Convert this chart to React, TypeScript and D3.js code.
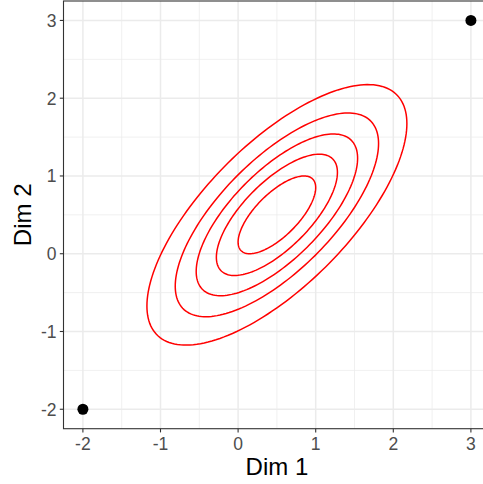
import React from "react";
import * as d3 from "d3";

const xTicks = [-2, -1, 0, 1, 2, 3];
const yTicks = [-2, -1, 0, 1, 2, 3];
const xMinor = [-1.5, -0.5, 0.5, 1.5, 2.5];
const yMinor = [-1.5, -0.5, 0.5, 1.5, 2.5];
const pointsX = [-2, 3];
const pointsY = [-2, 3];
const center = [0.5, 0.5];
const sds = [1, 1];
const rho = 0.7;
const contourRadii = [0.5, 0.78, 1.04, 1.31, 1.675];

const W = 483;
const H = 484;

export default function App() {
  const x = d3.scaleLinear().domain([-2.25, 3.25]).range([63.5, 490.3]);
  const y = d3.scaleLinear().domain([-2.25, 3.25]).range([428.7, 1.0]);
  const left = x.range()[0];
  const right = x.range()[1];
  const top = y.range()[1];
  const bottom = y.range()[0];

  const angles = d3.range(0, 361, 2).map((a) => (a * Math.PI) / 180);
  const line = d3
    .line<[number, number]>()
    .x((d) => x(d[0]))
    .y((d) => y(d[1]))
    .curve(d3.curveLinearClosed);

  const ellipse = (r: number): [number, number][] =>
    angles.map((t) => {
      const u = Math.cos(t);
      const v = Math.sin(t);
      const dx = r * sds[0] * u;
      const dy = r * (rho * sds[1] * u + sds[1] * Math.sqrt(1 - rho * rho) * v);
      return [center[0] + dx, center[1] + dy];
    });

  const font = "'Liberation Sans', Arial, sans-serif";

  return (
    <svg
      width={W}
      height={H}
      style={{ position: "absolute", left: 0, top: 0, background: "#fff" }}
    >
      <defs>
        <clipPath id="panel">
          <rect x={left} y={top} width={right - left} height={bottom - top} />
        </clipPath>
      </defs>
      <rect x={left} y={top} width={right - left} height={bottom - top} fill="#fff" />
      <g clipPath="url(#panel)">
        {xMinor.map((v) => (
          <line key={"xm" + v} x1={x(v)} x2={x(v)} y1={top} y2={bottom} stroke="#EBEBEB" strokeWidth={0.75} />
        ))}
        {yMinor.map((v) => (
          <line key={"ym" + v} y1={y(v)} y2={y(v)} x1={left} x2={right} stroke="#EBEBEB" strokeWidth={0.75} />
        ))}
        {xTicks.map((v) => (
          <line key={"xM" + v} x1={x(v)} x2={x(v)} y1={top} y2={bottom} stroke="#EBEBEB" strokeWidth={1.5} />
        ))}
        {yTicks.map((v) => (
          <line key={"yM" + v} y1={y(v)} y2={y(v)} x1={left} x2={right} stroke="#EBEBEB" strokeWidth={1.5} />
        ))}
        {contourRadii.map((r) => (
          <path key={"c" + r} d={line(ellipse(r)) || ""} fill="none" stroke="#FF0000" strokeWidth={1.5} />
        ))}
        {pointsX.map((px, i) => (
          <circle key={"p" + i} cx={x(px)} cy={y(pointsY[i])} r={5.5} fill="#000" />
        ))}
      </g>
      <rect
        x={left}
        y={top}
        width={right - left}
        height={bottom - top}
        fill="none"
        stroke="#333333"
        strokeWidth={1.1}
      />
      {xTicks.map((v) => (
        <g key={"xt" + v}>
          <line x1={x(v)} x2={x(v)} y1={bottom} y2={bottom + 3.7} stroke="#333333" strokeWidth={1.1} />
          <text
            x={x(v)}
            y={450}
            textAnchor="middle"
            fontFamily={font}
            fontSize={17.5}
            fill="#4D4D4D"
          >
            {v < 0 ? "-" + Math.abs(v) : String(v)}
          </text>
        </g>
      ))}
      {yTicks.map((v) => (
        <g key={"yt" + v}>
          <line x1={left - 3.7} x2={left} y1={y(v)} y2={y(v)} stroke="#333333" strokeWidth={1.1} />
          <text
            x={left - 7}
            y={y(v)}
            dy="0.36em"
            textAnchor="end"
            fontFamily={font}
            fontSize={17.5}
            fill="#4D4D4D"
          >
            {v < 0 ? "-" + Math.abs(v) : String(v)}
          </text>
        </g>
      ))}
      <text
        x={(left + right) / 2}
        y={475}
        textAnchor="middle"
        fontFamily={font}
        fontSize={24}
        fill="#000"
      >
        Dim 1
      </text>
      <text
        transform={`translate(${31},${(top + bottom) / 2}) rotate(-90)`}
        textAnchor="middle"
        fontFamily={font}
        fontSize={24}
        fill="#000"
      >
        Dim 2
      </text>
    </svg>
  );
}
